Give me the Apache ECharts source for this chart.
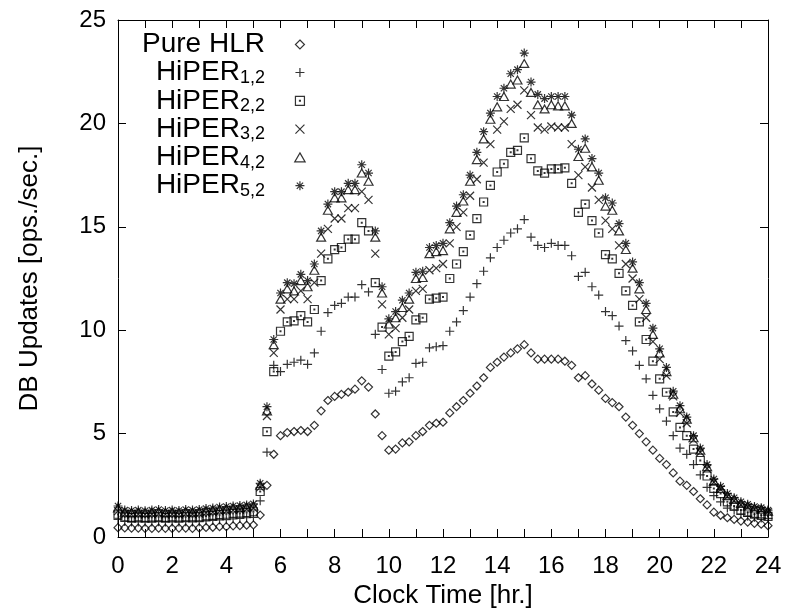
<!DOCTYPE html>
<html>
<head>
<meta charset="utf-8">
<script src="https://cdn.jsdelivr.net/npm/echarts@6/dist/echarts.min.js"></script>
<style>
  html, body { margin: 0; background: #fff; }
  #chart { width: 788px; height: 614px; }
</style>
</head>
<body>
<div id="chart"></div>
<script>
// sample times, one every 15 minutes
const hours = [
  0, 0.25, 0.5, 0.75, 1, 1.25, 1.5, 1.75, 2, 2.25, 2.5, 2.75, 3, 3.25, 3.5, 3.75,
  4, 4.25, 4.5, 4.75, 5, 5.25, 5.5, 5.75, 6, 6.25, 6.5, 6.75, 7, 7.25, 7.5, 7.75,
  8, 8.25, 8.5, 8.75, 9, 9.25, 9.5, 9.75, 10, 10.25, 10.5, 10.75, 11, 11.25, 11.5, 11.75,
  12, 12.25, 12.5, 12.75, 13, 13.25, 13.5, 13.75, 14, 14.25, 14.5, 14.75, 15, 15.25, 15.5, 15.75,
  16, 16.25, 16.5, 16.75, 17, 17.25, 17.5, 17.75, 18, 18.25, 18.5, 18.75, 19, 19.25, 19.5, 19.75,
  20, 20.25, 20.5, 20.75, 21, 21.25, 21.5, 21.75, 22, 22.25, 22.5, 22.75, 23, 23.25, 23.5, 23.75, 24
];

const pureHLR = [
  0.45, 0.44, 0.43, 0.43, 0.42, 0.42, 0.43, 0.42, 0.42, 0.43, 0.43, 0.42, 0.44, 0.46, 0.47, 0.5,
  0.5, 0.54, 0.55, 0.57, 0.58, 1.06, 2.5, 4.0, 4.9, 5.05, 5.1, 5.15, 5.1, 5.4, 6.1, 6.6,
  6.8, 6.9, 7.0, 7.15, 7.55, 7.25, 5.95, 4.9, 4.2, 4.25, 4.55, 4.6, 4.9, 5.1, 5.4, 5.5,
  5.55, 6.0, 6.3, 6.6, 6.95, 7.3, 7.7, 8.2, 8.45, 8.7, 8.9, 9.1, 9.3, 8.9, 8.6, 8.6,
  8.6, 8.6, 8.5, 8.3, 7.7, 7.8, 7.4, 7.1, 6.7, 6.5, 6.3, 5.8, 5.4, 5.0, 4.6, 4.2,
  3.8, 3.5, 3.1, 2.7, 2.5, 2.2, 1.85, 1.55, 1.2, 1.05, 0.93, 0.85, 0.77, 0.72, 0.66, 0.62, 0.55
];

const hiper12 = [
  0.85, 0.75, 0.72, 0.73, 0.72, 0.72, 0.74, 0.72, 0.73, 0.72, 0.74, 0.73, 0.74, 0.78, 0.8, 0.83,
  0.84, 0.88, 0.9, 0.93, 0.95, 1.75, 4.1, 8.3, 8.0, 8.35, 8.45, 8.55, 8.35, 8.9, 9.95, 10.85,
  11.2, 11.3, 11.6, 11.6, 12.2, 11.85, 9.8, 8.1, 6.95, 7.05, 7.5, 7.7, 8.4, 8.45, 9.15, 9.2,
  9.25, 9.95, 10.4, 10.95, 11.6, 12.25, 12.85, 13.5, 14.0, 14.35, 14.7, 14.9, 15.35, 14.5, 14.1, 14.0,
  14.2, 14.1, 14.1, 13.6, 12.6, 12.8, 12.1, 11.7, 10.9, 10.7, 10.2, 9.5, 9.0, 8.3, 7.65, 6.85,
  6.2, 5.6, 4.9, 4.3, 4.0, 3.5, 3.0, 2.4, 2.0, 1.7, 1.4, 1.3, 1.1, 1.0, 0.95, 0.92, 0.9
];

const hiper22 = [
  1.1, 0.98, 0.95, 0.97, 0.95, 0.96, 0.98, 0.95, 0.97, 0.96, 0.98, 0.97, 0.98, 1.02, 1.05, 1.08,
  1.1, 1.14, 1.15, 1.18, 1.22, 2.2, 5.1, 8.0, 9.95, 10.4, 10.45, 10.7, 10.4, 11.0, 12.4, 13.45,
  13.9, 14.0, 14.4, 14.4, 15.2, 14.8, 12.3, 10.15, 8.75, 8.95, 9.45, 9.7, 10.5, 10.6, 11.5, 11.55,
  11.6, 12.5, 13.2, 13.8, 14.6, 15.4, 16.2, 17.0, 17.65, 18.05, 18.6, 18.7, 19.3, 18.3, 17.7, 17.6,
  17.8, 17.8, 17.85, 17.1, 15.7, 16.1, 15.3, 14.7, 13.65, 13.45, 12.75, 11.9, 11.2, 10.4, 9.55, 8.5,
  7.65, 7.0, 6.05, 5.3, 4.9, 4.25, 3.7, 2.95, 2.35, 2.1, 1.7, 1.5, 1.3, 1.2, 1.1, 1.05, 1.0
];

const hiper32 = [
  1.25, 1.1, 1.08, 1.1, 1.08, 1.1, 1.12, 1.08, 1.1, 1.08, 1.12, 1.1, 1.12, 1.17, 1.2, 1.24,
  1.26, 1.3, 1.32, 1.35, 1.4, 2.4, 5.85, 8.9, 11.0, 11.5, 11.5, 11.9, 11.5, 12.3, 13.7, 14.9,
  15.4, 15.4, 15.9, 15.9, 16.7, 16.3, 13.7, 11.25, 9.8, 10.1, 10.6, 11.0, 11.9, 12.0, 12.9, 13.0,
  13.2, 14.2, 15.0, 15.7, 16.5, 17.3, 18.1, 19.0, 19.7, 20.1, 20.7, 20.9, 21.6, 20.4, 19.8, 19.7,
  19.85, 19.8, 19.8, 19.0, 17.5, 17.9, 16.9, 16.3, 15.3, 14.9, 14.1, 13.2, 12.5, 11.5, 10.6, 9.45,
  8.6, 7.8, 6.8, 6.0, 5.5, 4.7, 4.1, 3.3, 2.65, 2.3, 1.95, 1.75, 1.55, 1.45, 1.35, 1.3, 1.2
];

const hiper42 = [
  1.4, 1.2, 1.18, 1.2, 1.18, 1.2, 1.22, 1.18, 1.2, 1.18, 1.22, 1.2, 1.22, 1.27, 1.3, 1.34,
  1.36, 1.4, 1.42, 1.45, 1.5, 2.5, 6.1, 9.3, 11.5, 12.0, 11.9, 12.4, 12.1, 12.9, 14.5, 15.8,
  16.4, 16.4, 16.8, 16.8, 17.6, 17.2, 14.5, 11.8, 10.3, 10.6, 11.1, 11.5, 12.5, 12.55, 13.7, 13.8,
  13.85, 14.9, 15.7, 16.25, 17.2, 18.25, 19.25, 20.2, 20.8, 21.3, 21.9, 22.1, 22.9, 21.5, 20.9, 20.7,
  20.9, 20.85, 20.85, 20.0, 18.4, 18.8, 17.9, 17.25, 16.0, 15.8, 14.8, 13.9, 13.0, 12.0, 11.0, 9.8,
  8.9, 8.0, 6.9, 6.2, 5.7, 4.8, 4.2, 3.4, 2.7, 2.35, 2.0, 1.82, 1.62, 1.5, 1.4, 1.35, 1.25
];

const hiper52 = [
  1.5, 1.3, 1.28, 1.3, 1.27, 1.3, 1.33, 1.28, 1.3, 1.28, 1.33, 1.3, 1.33, 1.38, 1.4, 1.45,
  1.47, 1.5, 1.52, 1.55, 1.6, 2.6, 6.3, 9.55, 11.8, 12.3, 12.25, 12.7, 12.4, 13.2, 14.8, 16.1,
  16.7, 16.7, 17.1, 17.1, 18.0, 17.6, 14.8, 12.1, 10.55, 10.9, 11.45, 11.8, 12.8, 12.85, 14.0, 14.1,
  14.2, 15.2, 16.0, 16.55, 17.5, 18.6, 19.6, 20.5, 21.3, 21.7, 22.4, 22.6, 23.4, 22.0, 21.4, 21.2,
  21.3, 21.3, 21.3, 20.4, 18.75, 19.25, 18.3, 17.6, 16.4, 16.15, 15.15, 14.2, 13.3, 12.3, 11.3, 10.1,
  9.1, 8.2, 7.05, 6.35, 5.8, 4.9, 4.3, 3.5, 2.8, 2.45, 2.1, 1.9, 1.7, 1.58, 1.47, 1.42, 1.3
];

const seriesNames = ['Pure HLR', 'HiPER1,2', 'HiPER2,2', 'HiPER3,2', 'HiPER4,2', 'HiPER5,2'];
const xTicks = [0, 2, 4, 6, 8, 10, 12, 14, 16, 18, 20, 22, 24];

// gnuplot-like point shapes
const symbols = [
  'path://M5,0L10,5L5,10L0,5Z',
  'path://M5,0L5,10M0,5L10,5',
  'path://M0,0L10,0L10,10L0,10ZM4.5,4.5L5.5,4.5L5.5,5.5L4.5,5.5Z',
  'path://M0,0L10,10M10,0L0,10',
  'path://M5,0L10,8.66L0,8.66Z',
  'path://M5,0L5,10M0,5L10,5M1.5,1.5L8.5,8.5M8.5,1.5L1.5,8.5'
];
const sizes = [8, 9, 8, 8, [9, 8], 9];

const font = 'Liberation Sans';
const values = [pureHLR, hiper12, hiper22, hiper32, hiper42, hiper52];

const chart = echarts.init(document.getElementById('chart'), null, { renderer: 'canvas' });

const series = seriesNames.map((name, k) => ({
  name: name,
  type: 'scatter',
  symbol: symbols[k],
  symbolSize: sizes[k],
  data: hours.map((h, i) => [h, values[k][i]]),
  itemStyle: { color: 'rgba(0,0,0,0)', borderColor: '#000', borderWidth: 1.2 },
  emphasis: { disabled: true },
  clip: false
}));

const axisCommon = {
  axisLine: { show: true, onZero: false, lineStyle: { color: '#000', width: 1 } },
  axisTick: { show: true, inside: true, length: 8, lineStyle: { color: '#000', width: 1 } },
  splitLine: { show: false }
};

const option = {
  animation: false,
  backgroundColor: '#fff',
  grid: { left: 118, right: 20, top: 20, bottom: 76 },
  legend: {
    orient: 'vertical',
    left: 142,
    top: 30.5,
    align: 'right',
    padding: 0,
    itemWidth: 60,
    itemHeight: 9,
    itemGap: 0,
    symbolKeepAspect: true,
    selectedMode: false,
    data: seriesNames,
    itemStyle: { borderWidth: 1.2 },
    formatter: function (name) {
      if (name.indexOf('HiPER') === 0) {
        return '{m|HiPER}{s|' + name.slice(5) + '}';
      }
      return '{m|' + name + '}';
    },
    textStyle: {
      align: 'right',
      color: '#000',
      fontFamily: font,
      rich: {
        m: { fontSize: 28, lineHeight: 28.6, fontFamily: font, color: '#000', align: 'right' },
        s: { fontSize: 18, lineHeight: 17, verticalAlign: 'bottom', fontFamily: font, color: '#000', align: 'right' }
      }
    }
  },
  xAxis: [
    Object.assign({
      type: 'value', min: 0, max: 24, interval: 1,
      name: 'Clock Time [hr.]', nameLocation: 'middle', nameGap: 46,
      nameTextStyle: { fontSize: 26, fontFamily: font, color: '#000' },
      axisLabel: {
        fontSize: 24, fontFamily: font, color: '#000', margin: 17,
        formatter: v => (xTicks.indexOf(v) >= 0 ? String(v) : '')
      }
    }, axisCommon),
    Object.assign({
      type: 'value', min: 0, max: 24, interval: 1, position: 'top',
      axisLabel: { show: false }
    }, axisCommon)
  ],
  yAxis: [
    Object.assign({
      type: 'value', min: 0, max: 25, interval: 5,
      name: 'DB Updates [ops./sec.]', nameLocation: 'middle', nameGap: 75, nameRotate: 90,
      nameTextStyle: { fontSize: 26, fontFamily: font, color: '#000' },
      axisLabel: { fontSize: 24, fontFamily: font, color: '#000', margin: 12 }
    }, axisCommon),
    Object.assign({
      type: 'value', min: 0, max: 25, interval: 5, position: 'right',
      axisLabel: { show: false }
    }, axisCommon)
  ],
  series: series
};

chart.setOption(option);
</script>
</body>
</html>
